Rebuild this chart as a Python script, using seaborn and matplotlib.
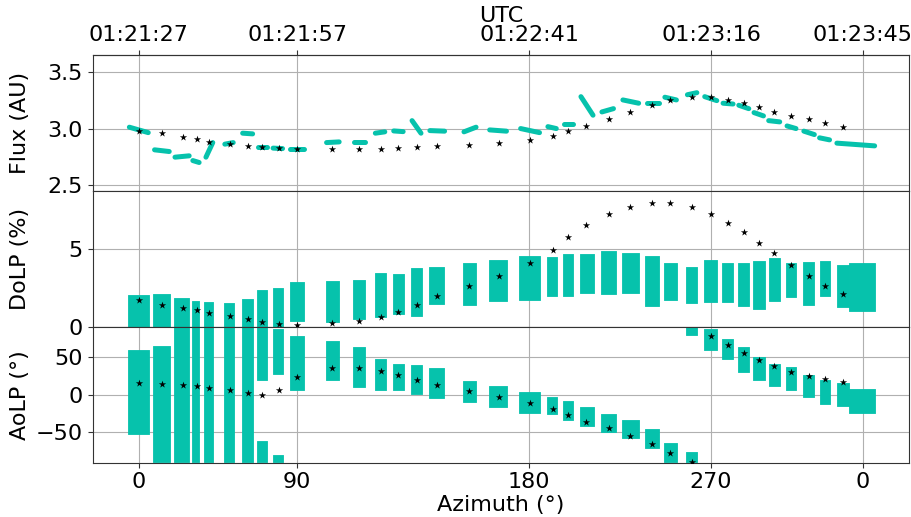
import numpy as np
import pandas as pd
import matplotlib
matplotlib.use("Agg")
import matplotlib.pyplot as plt
import seaborn as sns

# tempo em segundos desde 01:21:27
tick_t = [0, 30.2, 74.4, 109.1, 138.0]
utc_labels = ["01:21:27", "01:21:57", "01:22:41", "01:23:16", "01:23:45"]
az_labels = ["0", "90", "180", "270", "0"]

# pontos do modelo (estrelas)
star_t = [0.0, 4.4, 8.4, 11.1, 13.4, 17.3, 20.8, 23.5, 26.7, 30.2, 36.8, 41.9,
          46.2, 49.5, 53.1, 56.9, 62.9, 68.6, 74.5, 78.9, 81.8, 85.3, 89.6, 93.7,
          97.9, 101.3, 105.4, 109.1, 112.4, 115.4, 118.3, 121.1, 124.3, 127.7,
          130.9, 134.2]
star_flux = [2.985, 2.962, 2.932, 2.909, 2.888, 2.865, 2.850, 2.844, 2.832, 2.826,
             2.826, 2.826, 2.826, 2.832, 2.844, 2.850, 2.861, 2.879, 2.903, 2.938,
             2.980, 3.026, 3.086, 3.150, 3.214, 3.256, 3.285, 3.285, 3.258, 3.227,
             3.191, 3.150, 3.115, 3.086, 3.053, 3.020]
star_dolp = [1.74, 1.43, 1.22, 1.11, 0.91, 0.70, 0.52, 0.31, 0.18, 0.13, 0.22, 0.39,
             0.65, 0.96, 1.39, 1.96, 2.61, 3.31, 4.15, 4.95, 5.82, 6.60, 7.30, 7.78,
             8.04, 8.00, 7.74, 7.30, 6.73, 6.13, 5.43, 4.78, 4.00, 3.28, 2.65, 2.11]
star_aolp = [15.4, 14.6, 13.6, 11.9, 9.3, 5.7, 2.1, 0.0, 5.7, 24.2, 35.2, 36.2,
             31.8, 26.9, 19.9, 12.7, 4.8, -3.2, -11.1, -19.1, -27.0, -35.8, -44.2,
             -54.8, -65.3, -77.4, -89.3, 78.1, 66.6, 55.6, 45.8, 37.9, 29.9, 24.6,
             20.3, 17.6]

# segmentos medidos de fluxo: inicio/fim
flux_t0 = [-1.8, 3.0, 6.9, 10.3, 12.8, 16.4, 19.8, 22.8, 25.6, 28.8, 35.8, 41.0,
           45.1, 48.6, 52.1, 55.5, 62.0, 66.9, 72.8, 78.0, 81.0, 84.3, 88.3, 92.3,
           96.8, 100.3, 104.6, 107.9, 111.4, 114.4, 117.3, 120.1, 123.6, 126.8,
           129.8, 133.1]
flux_t1 = [1.8, 5.8, 9.6, 11.5, 14.1, 18.0, 21.7, 24.4, 27.4, 31.5, 38.2, 43.1,
           46.9, 50.4, 53.8, 58.3, 64.3, 70.1, 76.4, 79.6, 82.7, 86.6, 90.5, 95.3,
           99.1, 102.5, 106.4, 110.2, 113.3, 116.3, 119.1, 122.2, 125.3, 128.8,
           131.7, 140.3]
flux_v0 = [3.015, 2.815, 2.750, 2.720, 2.750, 2.865, 2.962, 2.844, 2.830, 2.826,
           2.879, 2.885, 2.962, 2.982, 3.073, 2.985, 2.974, 2.991, 3.003, 3.020,
           3.044, 3.285, 3.150, 3.256, 3.232, 3.280, 3.302, 3.285, 3.227, 3.209,
           3.144, 3.073, 3.026, 2.980, 2.921, 2.874]
flux_v1 = [2.967, 2.800, 2.762, 2.703, 2.879, 2.879, 2.956, 2.844, 2.826, 2.826,
           2.885, 2.885, 2.974, 2.976, 2.962, 2.980, 3.015, 2.980, 2.967, 3.003,
           3.044, 3.121, 3.179, 3.227, 3.232, 3.256, 3.320, 3.250, 3.220, 3.179,
           3.115, 3.062, 3.003, 2.950, 2.903, 2.850]

# rajadas de DoLP: intervalo de tempo e faixa min/max
dolp_t0 = [-2.0, 2.8, 6.8, 10.2, 12.5, 16.3, 19.7, 22.6, 25.6, 28.8, 35.6, 40.9,
           45.0, 48.4, 51.9, 55.4, 61.8, 66.8, 72.5, 77.8, 80.8, 84.1, 88.1, 92.2,
           96.6, 100.1, 104.4, 107.7, 111.2, 114.2, 117.2, 120.1, 123.4, 126.6,
           129.8, 133.1, 135.5]
dolp_t1 = [2.0, 6.0, 9.6, 11.5, 14.2, 18.2, 21.8, 24.5, 27.4, 31.5, 38.2, 43.2,
           47.1, 50.5, 53.9, 58.2, 64.3, 70.2, 76.4, 79.8, 82.8, 86.7, 90.9, 95.4,
           99.1, 102.6, 106.4, 110.3, 113.3, 116.3, 119.3, 122.2, 125.3, 128.8,
           131.7, 135.4, 140.3]
dolp_lo = [0, 0, 0, 0, 0, 0, 0, 0, 0, 0.35, 0.28, 0.5, 0.65, 0.83, 0.72, 1.48,
           1.43, 1.69, 1.74, 1.96, 2.02, 2.2, 2.13, 2.2, 1.37, 1.74, 1.52, 1.59,
           1.59, 1.37, 1.15, 1.69, 1.91, 1.41, 1.96, 1.26, 1.04]
dolp_hi = [2.05, 2.1, 1.85, 1.65, 1.6, 1.55, 1.8, 2.35, 2.5, 2.9, 2.95, 3.05,
           3.5, 3.4, 3.8, 3.85, 4.15, 4.35, 4.55, 4.5, 4.7, 4.7, 4.9, 4.8, 4.55,
           4.1, 3.85, 4.35, 4.1, 4.1, 4.25, 4.45, 4.15, 4.2, 4.25, 3.98, 4.1]

# rajadas de AoLP (com as partes que dão a volta em +-90)
aolp_t0 = [-2.0, 2.8, 6.8, 10.2, 12.5, 16.3, 19.7, 22.6, 22.6, 25.6, 25.6, 28.8,
           35.6, 40.9, 45.0, 48.4, 51.9, 55.4, 61.8, 66.8, 72.5, 77.8, 80.8, 84.1,
           88.1, 92.2, 96.6, 100.1, 104.4, 104.4, 107.7, 111.2, 114.2, 117.2,
           120.1, 123.4, 126.6, 129.8, 133.1, 135.5]
aolp_t1 = [2.0, 6.0, 9.6, 11.5, 14.2, 18.2, 21.8, 24.5, 24.5, 27.4, 27.4, 31.5,
           38.2, 43.2, 47.1, 50.5, 53.9, 58.2, 64.3, 70.2, 76.4, 79.8, 82.8, 86.7,
           90.9, 95.4, 99.1, 102.6, 106.4, 106.4, 110.3, 113.3, 116.3, 119.3,
           122.2, 125.3, 128.8, 131.7, 135.4, 140.3]
aolp_lo = [-52, -90, -90, -90, -90, -90, -90, 19, -90, 28, -90, 6, 19, 10, 6, 6,
           1, -5, -10, -16, -24, -25, -34, -41, -49, -58, -71, -89, -90, 79, 60,
           48, 30, 19, 12, 6, -3, -12, -15, -24]
aolp_hi = [60, 65, 90, 90, 90, 90, 90, 90, -62, 87, -80, 78, 72, 63, 48, 41, 39,
           35, 18, 11, 3.5, -3, -8, -16, -25, -34, -45, -64, -76, 90, 87, 74, 63,
           50, 41, 37, 26, 19, 15, 8]

cor = "#06c2ac"

sns.set_style("ticks")
plt.rcParams["font.size"] = 16
plt.rcParams["text.color"] = "black"
plt.rcParams["axes.labelcolor"] = "black"
plt.rcParams["xtick.color"] = "black"
plt.rcParams["ytick.color"] = "black"

fig, axes = plt.subplots(3, 1, figsize=(9.12, 5.17), dpi=100, sharex=True,
                         gridspec_kw=dict(hspace=0))
fig.subplots_adjust(left=0.1016, right=0.997, top=0.894, bottom=0.105)

# Fluxo
seg = pd.DataFrame({
    "seg": np.repeat(np.arange(len(flux_t0)), 2),
    "t": np.ravel(np.column_stack([flux_t0, flux_t1])),
    "v": np.ravel(np.column_stack([flux_v0, flux_v1])),
})
sns.lineplot(data=seg, x="t", y="v", units="seg", estimator=None, color=cor,
             lw=3.6, solid_capstyle="round", ax=axes[0], legend=False)

# DoLP e AoLP
for t0, t1, lo, hi in zip(dolp_t0, dolp_t1, dolp_lo, dolp_hi):
    axes[1].fill_between([t0, t1], [lo, lo], [hi, hi], color=cor, lw=0.6,
                         edgecolor=cor)
for t0, t1, lo, hi in zip(aolp_t0, aolp_t1, aolp_lo, aolp_hi):
    axes[2].fill_between([t0, t1], [lo, lo], [hi, hi], color=cor, lw=0.6,
                         edgecolor=cor)

stars = pd.DataFrame({"t": star_t, "flux": star_flux, "dolp": star_dolp,
                      "aolp": star_aolp})
for ax, col in zip(axes, ["flux", "dolp", "aolp"]):
    sns.scatterplot(data=stars, x="t", y=col, marker="*", color="black", s=30,
                    linewidth=0, ax=ax, zorder=3)

axes[0].set_ylim(2.453, 3.655)
axes[0].set_yticks([2.5, 3.0, 3.5])
axes[0].set_ylabel("Flux (AU)")
axes[1].set_ylim(0, 8.8)
axes[1].set_yticks([0, 5])
axes[1].set_ylabel("DoLP (%)")
axes[2].set_ylim(-90.5, 90.5)
axes[2].set_yticks([-50, 0, 50])
axes[2].set_ylabel("AoLP (°)")

for ax in axes:
    ax.grid(True, color="#b0b0b0", lw=0.8)
    ax.set_axisbelow(True)
    for s in ax.spines.values():
        s.set_color("#333333")
    ax.tick_params(direction="out", length=3.5, width=0.8, color="#333333")

axes[2].set_xlim(-8.8, 146.9)
axes[2].set_xticks(tick_t)
axes[2].set_xticklabels(az_labels)
axes[2].set_xlabel("Azimuth (°)", labelpad=2)

sec = axes[0].secondary_xaxis("top")
sec.set_xticks(tick_t)
sec.set_xticklabels(utc_labels)
sec.set_xlabel("UTC", labelpad=2)
sec.tick_params(direction="out", length=3.5, width=0.8, color="#333333")

fig.align_ylabels(axes)
fig.savefig("out.png", dpi=100)
